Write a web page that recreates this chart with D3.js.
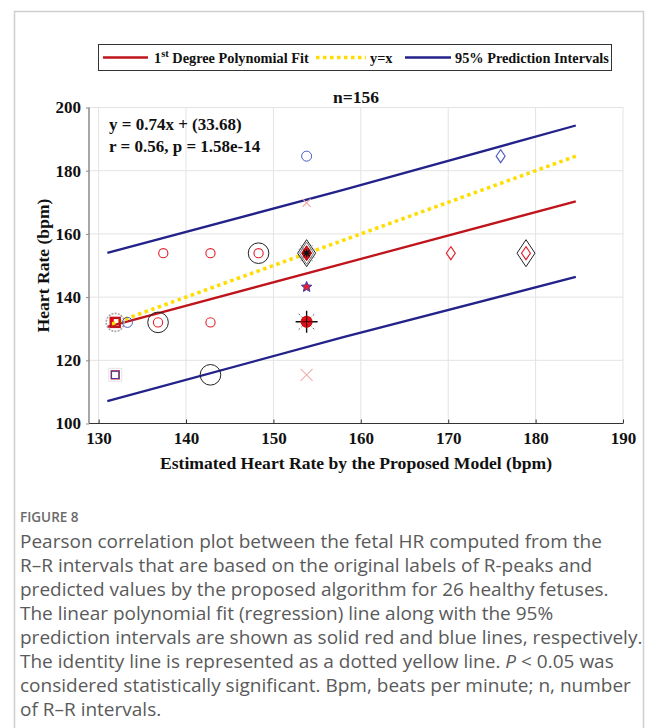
<!DOCTYPE html>
<html>
<head>
<meta charset="utf-8">
<script src="https://cdn.jsdelivr.net/npm/d3@7/dist/d3.min.js"></script>
<style>
  html, body { margin: 0; padding: 0; background: #fff; }
  svg { display: block; }
</style>
</head>
<body>
<svg id="chart" width="656" height="728"></svg>
<script>
// ---------- data ----------
const xTicks = [130, 140, 150, 160, 170, 180, 190];
const yTicks = [100, 120, 140, 160, 180, 200];

// regression line (1st degree polynomial fit) endpoints
const fitX = [131, 184.6];
const fitY = [130.6, 170.3];
// identity line y = x
const identityX = [131.5, 184.6];
const identityY = [131.5, 184.6];
// 95% prediction intervals
const piX = [131, 158, 184.6];
const piUpper = [154.0, 173.9, 194.3];
const piLower = [107.1, 127.3, 146.4];

// scatter markers (estimated HR, reference HR)
const markerX = [131.9, 131.9, 133.3, 136.8, 136.8, 142.8, 131.9, 131.9, 142.8,
                 137.4, 142.8, 148.3, 148.3, 153.8, 153.8, 153.8, 153.8, 153.8,
                 153.8, 153.8, 153.8, 153.8, 153.8, 170.3, 176.0, 178.9, 178.9];
const markerY = [132.0, 132.0, 132.0, 132.0, 132.0, 132.0, 115.4, 115.4, 115.4,
                 153.9, 153.9, 153.9, 153.9, 184.6, 169.8, 153.9, 153.9, 153.9,
                 153.9, 143.2, 132.2, 132.2, 115.4, 153.9, 184.6, 153.9, 153.9];
const markerKind = ["grayRing", "redSquare", "blueCircle", "blackRing", "redCircle", "redCircle",
                    "graySquare", "purpleSquare", "blackRing",
                    "redCircle", "redCircle", "blackRing", "redCircle",
                    "blueCircle", "pinkXSmall", "blackDiamondBig", "grayHex", "redDiamondFilled",
                    "blackAsterisk", "redStar", "blackBurst", "redDot", "pinkXLarge",
                    "redDiamond", "blueDiamond", "blackDiamondBig", "redDiamond"];

const legendLabels = ["Degree Polynomial Fit", "y=x", "95% Prediction Intervals"];
const titleText = "n=156";
const eqLines = ["y = 0.74x + (33.68)", "r = 0.56, p = 1.58e-14"];
const xLabel = "Estimated Heart Rate by the Proposed Model (bpm)";
const yLabel = "Heart Rate (bpm)";
const figLabel = "FIGURE 8";
const captionLines = [
  ["Pearson correlation plot between the fetal HR computed from the"],
  ["R\u2013R intervals that are based on the original labels of R-peaks and"],
  ["predicted values by the proposed algorithm for 26 healthy fetuses."],
  ["The linear polynomial fit (regression) line along with the 95%"],
  ["prediction intervals are shown as solid red and blue lines, respectively."],
  ["The identity line is represented as a dotted yellow line. ", {i: "P"}, " < 0.05 was"],
  ["considered statistically significant. Bpm, beats per minute; n, number"],
  ["of R\u2013R intervals."]
];

// ---------- styling ----------
const RED = "#c0141c", BLUE = "#22228a", YELLOW = "#ffdd00";
const serif = "'Liberation Serif', 'Times New Roman', serif";

const svg = d3.select("#chart");

// outer frame
svg.append("path")
  .attr("d", "M14.5,740 V11.5 H643.5 V740")
  .attr("fill", "none").attr("stroke", "#cfcfcf").attr("stroke-width", 1.5);

const x = d3.scaleLinear().domain([128.9, 190]).range([89, 623]);
const y = d3.scaleLinear().domain([100, 200]).range([423.5, 107.5]);

// grid
const grid = svg.append("g").attr("stroke", "#e3e3e3").attr("stroke-width", 1);
xTicks.forEach(t => grid.append("line")
  .attr("x1", x(t)).attr("x2", x(t)).attr("y1", y(200)).attr("y2", y(100)));
yTicks.forEach(t => grid.append("line")
  .attr("x1", x(128.9)).attr("x2", x(190)).attr("y1", y(t)).attr("y2", y(t)));

// axes
const xAxis = d3.axisBottom(x).tickValues(xTicks).tickSize(-4).tickPadding(8).tickFormat(d3.format("d"));
const gx = svg.append("g").attr("transform", `translate(0,${y(100)})`).call(xAxis);
gx.select(".domain").attr("stroke", "#333").attr("stroke-width", 1.2).attr("d", `M${x(128.9)},0H${x(190)}`);
gx.selectAll(".tick line").attr("stroke", "#333");
gx.selectAll(".tick text").attr("font-family", serif).attr("font-weight", "bold")
  .attr("font-size", 17).attr("fill", "#111");

const yAxis = d3.axisLeft(y).tickValues(yTicks).tickSize(3).tickPadding(5).tickFormat(d3.format("d"));
const gy = svg.append("g").attr("transform", `translate(${x(128.9)},0)`).call(yAxis);
gy.select(".domain").attr("stroke", "#8a8a8a").attr("stroke-width", 1.5).attr("d", `M0,${y(100)}V${y(200)}`);
gy.selectAll(".tick line").attr("stroke", "#8a8a8a");
gy.selectAll(".tick text").attr("font-family", serif).attr("font-weight", "bold")
  .attr("font-size", 17).attr("fill", "#111");

// lines
const line = d3.line().x(d => x(d[0])).y(d => y(d[1]));
svg.append("path").datum(piX.map((v, i) => [v, piUpper[i]])).attr("d", line)
  .attr("fill", "none").attr("stroke", BLUE).attr("stroke-width", 2.3);
svg.append("path").datum(piX.map((v, i) => [v, piLower[i]])).attr("d", line)
  .attr("fill", "none").attr("stroke", BLUE).attr("stroke-width", 2.3);
svg.append("path").datum(fitX.map((v, i) => [v, fitY[i]])).attr("d", line)
  .attr("fill", "none").attr("stroke", RED).attr("stroke-width", 2.3);
svg.append("path").datum(identityX.map((v, i) => [v, identityY[i]])).attr("d", line)
  .attr("fill", "none").attr("stroke", YELLOW).attr("stroke-width", 3.6).attr("stroke-dasharray", "3.5,3.5");

// markers
const gm = svg.append("g");
function diamond(w, h) { return `M0,${-h/2}L${w/2},0L0,${h/2}L${-w/2},0Z`; }
function xShape(s) { return `M${-s},${-s}L${s},${s}M${-s},${s}L${s},${-s}`; }
function star(ro, ri, n) {
  let p = "";
  for (let i = 0; i < 2 * n; i++) {
    const r = i % 2 ? ri : ro, a = Math.PI * i / n - Math.PI / 2;
    p += (i ? "L" : "M") + (r * Math.cos(a)).toFixed(2) + "," + (r * Math.sin(a)).toFixed(2);
  }
  return p + "Z";
}
function drawMarker(g, kind) {
  switch (kind) {
    case "grayRing":
      g.append("circle").attr("r", 9).attr("fill", "none").attr("stroke", "#a8a8a8")
        .attr("stroke-width", 1.6).attr("stroke-dasharray", "2,1.2"); break;
    case "redSquare":
      g.append("rect").attr("x", -4.5).attr("y", -4.5).attr("width", 9).attr("height", 9)
        .attr("fill", "none").attr("stroke", RED).attr("stroke-width", 2.4);
      g.append("rect").attr("x", -4.5).attr("y", -4.5).attr("width", 3).attr("height", 4).attr("fill", "#e00"); break;
    case "blueCircle":
      g.append("circle").attr("r", 5).attr("fill", "none").attr("stroke", "#4a5cc0").attr("stroke-width", 1); break;
    case "blackRing":
      g.append("circle").attr("r", 10.3).attr("fill", "none").attr("stroke", "#222").attr("stroke-width", 1); break;
    case "redCircle":
      g.append("circle").attr("r", 4.6).attr("fill", "none").attr("stroke", "#e0202a").attr("stroke-width", 1.1); break;
    case "graySquare":
      g.append("rect").attr("x", -6.5).attr("y", -6.5).attr("width", 13).attr("height", 13)
        .attr("fill", "none").attr("stroke", "#e4e4e4").attr("stroke-width", 1); break;
    case "purpleSquare":
      g.append("rect").attr("x", -4).attr("y", -4).attr("width", 8).attr("height", 8)
        .attr("fill", "none").attr("stroke", "#c03050").attr("stroke-width", 1.4);
      g.append("rect").attr("x", -3.6).attr("y", -3.6).attr("width", 7.2).attr("height", 7.2)
        .attr("fill", "none").attr("stroke", "#3a3a9a").attr("stroke-width", 0.9); break;
    case "pinkXSmall":
      g.append("path").attr("d", xShape(4)).attr("stroke", "#f0a8a8").attr("stroke-width", 1.1); break;
    case "pinkXLarge":
      g.append("path").attr("d", xShape(6)).attr("stroke", "#f2b0b0").attr("stroke-width", 1.1); break;
    case "blackDiamondBig":
      g.append("path").attr("d", diamond(18, 27)).attr("fill", "#fff").attr("fill-opacity", 0.85)
        .attr("stroke", "#222").attr("stroke-width", 1); break;
    case "grayHex":
      g.append("path").attr("d", diamond(14, 22)).attr("fill", "none").attr("stroke", "#777").attr("stroke-width", 1);
      g.append("path").attr("d", `M-8,-4L8,-4M-8,4L8,4M-6,-8L6,8M-6,8L6,-8`).attr("stroke", "#888").attr("stroke-width", 0.8); break;
    case "redDiamondFilled":
      g.append("path").attr("d", diamond(10, 15)).attr("fill", "#e0101a").attr("stroke", "#b00").attr("stroke-width", 1); break;
    case "blackAsterisk":
      g.append("path").attr("d", `M0,-4V4M-4,0H4M-3,-3L3,3M-3,3L3,-3`).attr("stroke", "#111").attr("stroke-width", 1.3); break;
    case "redStar":
      g.append("path").attr("d", star(5.5, 2.5, 5)).attr("fill", "#e8202a").attr("stroke", "#3a3ab0").attr("stroke-width", 1); break;
    case "blackBurst":
      g.append("path").attr("d", `M0,-11V11M-11,0H11`).attr("stroke", "#111").attr("stroke-width", 1.4);
      g.append("path").attr("d", `M-8,-8L8,8M-8,8L8,-8`).attr("stroke", "#666").attr("stroke-width", 1).attr("stroke-dasharray", "2,2"); break;
    case "redDot":
      g.append("circle").attr("r", 5.5).attr("fill", "#e0101a").attr("stroke", "#c00").attr("stroke-width", 1);
      g.append("path").attr("d", `M0,-5V5M-5,0H5`).attr("stroke", "#300").attr("stroke-width", 1); break;
    case "redDiamond":
      g.append("path").attr("d", diamond(9, 13)).attr("fill", "none").attr("stroke", "#e0202a").attr("stroke-width", 1.1); break;
    case "blueDiamond":
      g.append("path").attr("d", diamond(9, 13)).attr("fill", "none").attr("stroke", "#4a5cc0").attr("stroke-width", 1.1); break;
  }
}
markerX.forEach((mx, i) => {
  const g = gm.append("g").attr("transform", `translate(${x(mx)},${y(markerY[i])})`);
  drawMarker(g, markerKind[i]);
});

// equation text
eqLines.forEach((t, i) => svg.append("text").attr("x", 109).attr("y", 130 + i * 22)
  .attr("font-family", serif).attr("font-weight", "bold").attr("font-size", 17).attr("fill", "#111").text(t));

// title
svg.append("text").attr("x", (x(128.9) + x(190)) / 2).attr("y", 103).attr("text-anchor", "middle")
  .attr("font-family", serif).attr("font-weight", "bold").attr("font-size", 17.5).attr("fill", "#111").text(titleText);

// axis labels
svg.append("text").attr("x", (x(128.9) + x(190)) / 2).attr("y", 469).attr("text-anchor", "middle")
  .attr("font-family", serif).attr("font-weight", "bold").attr("font-size", 17.6).attr("fill", "#111").text(xLabel);
svg.append("text").attr("transform", `translate(49,${(y(100) + y(200)) / 2}) rotate(-90)`).attr("text-anchor", "middle")
  .attr("font-family", serif).attr("font-weight", "bold").attr("font-size", 17.6).attr("fill", "#111").text(yLabel);

// legend
const lg = svg.append("g");
lg.append("rect").attr("x", 98.5).attr("y", 44.5).attr("width", 513).attr("height", 26)
  .attr("fill", "#fff").attr("stroke", "#333").attr("stroke-width", 1);
const ly = 57.5;
const lfs = 14.3;
lg.append("line").attr("x1", 103).attr("x2", 148).attr("y1", ly).attr("y2", ly).attr("stroke", RED).attr("stroke-width", 2.3);
const t1 = lg.append("text").attr("x", 154).attr("y", 62.5).attr("font-family", serif).attr("font-weight", "bold")
  .attr("font-size", lfs).attr("fill", "#111");
t1.append("tspan").text("1");
t1.append("tspan").attr("dy", -6).attr("font-size", 10.5).text("st");
t1.append("tspan").attr("dy", 6).text(" " + legendLabels[0]);
lg.append("line").attr("x1", 316).attr("x2", 366).attr("y1", ly).attr("y2", ly).attr("stroke", YELLOW)
  .attr("stroke-width", 3.6).attr("stroke-dasharray", "3.5,3.5");
lg.append("text").attr("x", 370).attr("y", 62.5).attr("font-family", serif).attr("font-weight", "bold")
  .attr("font-size", lfs).attr("fill", "#111").text(legendLabels[1]);
lg.append("line").attr("x1", 405).attr("x2", 451).attr("y1", ly).attr("y2", ly).attr("stroke", BLUE).attr("stroke-width", 2.3);
lg.append("text").attr("x", 455).attr("y", 62.5).attr("font-family", serif).attr("font-weight", "bold")
  .attr("font-size", lfs).attr("fill", "#111").text(legendLabels[2]);

// caption
const capFont = "'Open Sans', 'Noto Sans', sans-serif";
svg.append("text").attr("x", 20).attr("y", 522).attr("font-family", capFont).attr("font-weight", 600)
  .attr("font-size", 13.5).attr("fill", "#6a6a6a").text(figLabel);
captionLines.forEach((parts, i) => {
  const t = svg.append("text").attr("x", 20).attr("y", 548 + i * 24).attr("font-family", capFont)
    .attr("font-size", 19).attr("fill", "#5a5a5a");
  parts.forEach(p => {
    if (typeof p === "string") t.append("tspan").text(p);
    else t.append("tspan").attr("font-style", "italic").text(p.i);
  });
});
</script>
</body>
</html>
